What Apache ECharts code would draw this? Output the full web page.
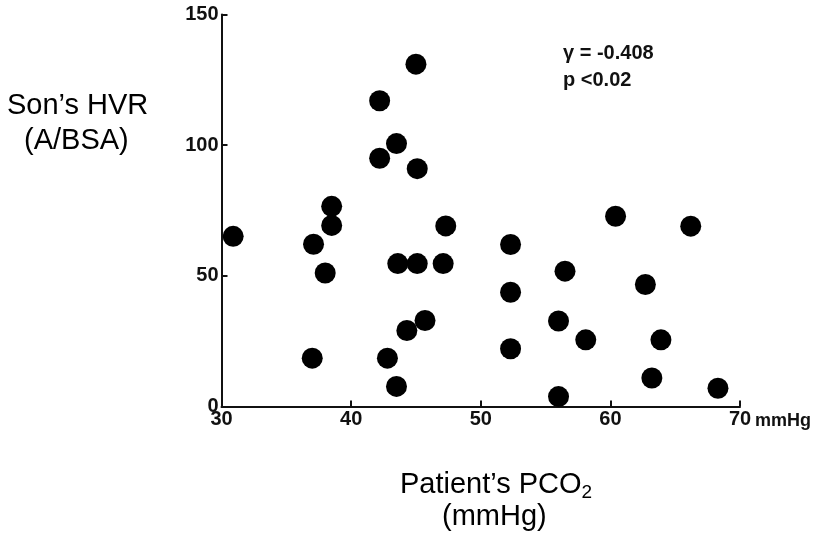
<!DOCTYPE html>
<html>
<head>
<meta charset="utf-8">
<script src="https://cdn.jsdelivr.net/npm/echarts@6/dist/echarts.min.js"></script>
<style>
html,body{margin:0;padding:0;background:#fff;}
#c{width:813px;height:536px;}
</style>
</head>
<body>
<div id="c"></div>
<script>
// Patient's PCO2 (mmHg)
const pco2 = [45.0, 42.2, 43.5, 42.2, 45.1, 38.5, 30.9, 38.5, 37.1, 38.0, 47.3, 43.6, 45.1, 47.1, 45.7, 44.3, 37.0, 42.8, 43.5,
              60.4, 66.2, 52.3, 56.5, 62.7, 52.3, 56.0, 58.1, 63.9, 52.3, 63.2, 68.3, 56.0];
// Son's HVR (A/BSA)
const hvr  = [131, 117, 100.6, 95, 91, 76.6, 65.1, 69.3, 62.1, 51.1, 69.1, 54.7, 54.7, 54.7, 32.9, 29.1, 18.5, 18.5, 7.7,
              72.8, 69.0, 62.0, 51.8, 46.7, 43.7, 32.7, 25.5, 25.5, 22.1, 10.9, 7.0, 3.8];
const xTicks = [30, 40, 50, 60, 70];
const yTicks = [0, 50, 100, 150];
const statLines = ['γ = -0.408', 'p <0.02'];

const tickFont = "'Liberation Sans Narrow','Liberation Sans',Arial,sans-serif";
const titleFont = "'Liberation Sans',Arial,Helvetica,sans-serif";

const chart = echarts.init(document.getElementById('c'));
chart.setOption({
  animation: false,
  backgroundColor: '#fff',
  grid: {left: 221.5, right: 73, top: 14.5, bottom: 129.5},
  xAxis: {
    type: 'value', min: xTicks[0], max: xTicks[xTicks.length - 1], interval: 10,
    splitLine: {show: false},
    axisLine: {lineStyle: {color: '#111', width: 2}},
    axisTick: {inside: true, length: 6, lineStyle: {color: '#111', width: 2}},
    axisLabel: {color: '#111', fontFamily: tickFont, fontWeight: 'bold', fontSize: 20, margin: 3,
      formatter: v => xTicks.includes(v) ? String(v) : ''}
  },
  yAxis: {
    type: 'value', min: yTicks[0], max: yTicks[yTicks.length - 1], interval: 50,
    splitLine: {show: false},
    axisLine: {lineStyle: {color: '#111', width: 2}},
    axisTick: {inside: true, length: 6, lineStyle: {color: '#111', width: 2}},
    axisLabel: {color: '#111', fontFamily: tickFont, fontWeight: 'bold', fontSize: 20, margin: 3,
      formatter: v => yTicks.includes(v) ? String(v) : ''}
  },
  series: [{
    type: 'scatter',
    data: pco2.map((x, i) => [x, hvr[i]]),
    symbolSize: 21,
    itemStyle: {color: '#000', opacity: 1}
  }],
  graphic: [
    {type: 'text', x: 755, y: 421, style: {text: 'mmHg', font: "bold 18px " + tickFont, fill: '#111', verticalAlign: 'middle'}},
    {type: 'text', x: 563, y: 53, style: {text: statLines[0], font: "bold 20px " + titleFont, fill: '#111', verticalAlign: 'middle'}},
    {type: 'text', x: 563, y: 80, style: {text: statLines[1], font: "bold 20px " + titleFont, fill: '#111', verticalAlign: 'middle'}},
    {type: 'text', x: 7, y: 106, style: {text: "Son’s HVR", font: "29px " + titleFont, fill: '#000', verticalAlign: 'middle'}},
    {type: 'text', x: 24, y: 141, style: {text: "(A/BSA)", font: "29px " + titleFont, fill: '#000', verticalAlign: 'middle'}},
    {type: 'text', x: 400, y: 485, style: {
      verticalAlign: 'middle',
      rich: {
        a: {font: "29px " + titleFont, fill: '#000'},
        s: {font: "19px " + titleFont, fill: '#000', padding: [16, 0, 0, 0]}
      },
      text: "{a|Patient’s PCO}{s|2}"
    }},
    {type: 'text', x: 442, y: 517, style: {text: "(mmHg)", font: "29px " + titleFont, fill: '#000', verticalAlign: 'middle'}}
  ]
});
</script>
</body>
</html>
